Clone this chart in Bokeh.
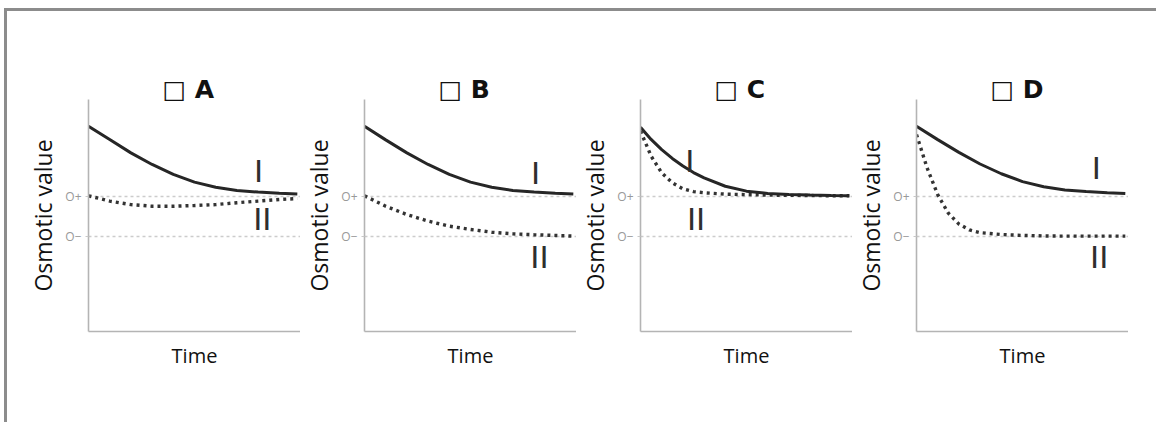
from bokeh.plotting import figure
from bokeh.layouts import row
from bokeh.models import FixedTicker, Spacer
from bokeh.embed import file_html
from bokeh.resources import INLINE
from bokeh.core.properties import value

# ---------------- data ----------------
panel_names = ["A", "B", "C", "D"]
o_plus = 5.8
o_minus = 4.1
tick_values = [o_minus, o_plus]
tick_labels = ["O\u2212", "O+"]

t_even = [0, 1, 2, 3, 4, 5, 6, 7, 8, 9, 9.85]
t_fast = [0, 0.5, 1, 1.5, 2, 2.5, 3, 4, 5, 6, 7, 8, 9, 9.85]

# Panel A
a_I_t = t_even
a_I = [8.85, 8.28, 7.70, 7.20, 6.77, 6.44, 6.22, 6.08, 6.01, 5.96, 5.93]
a_II_t = t_even
a_II = [5.85, 5.62, 5.47, 5.40, 5.40, 5.43, 5.47, 5.55, 5.62, 5.69, 5.73]

# Panel B
b_I_t = t_even
b_I = [8.85, 8.26, 7.70, 7.20, 6.77, 6.44, 6.22, 6.08, 6.01, 5.96, 5.93]
b_II_t = t_even
b_II = [5.85, 5.40, 5.04, 4.76, 4.54, 4.40, 4.28, 4.21, 4.17, 4.14, 4.11]

# Panel C
c_I_t = t_fast
c_I = [8.80, 8.28, 7.84, 7.46, 7.13, 6.85, 6.62, 6.26, 6.05, 5.95, 5.91, 5.88, 5.86, 5.85]
c_II_t = t_fast
c_II = [8.64, 7.56, 6.84, 6.41, 6.15, 6.03, 5.98, 5.92, 5.90, 5.88, 5.87, 5.86, 5.85, 5.85]

# Panel D
d_I_t = t_even
d_I = [8.85, 8.27, 7.72, 7.22, 6.80, 6.46, 6.24, 6.10, 6.03, 5.98, 5.95]
d_II_t = t_fast
d_II = [8.49, 7.05, 5.90, 5.10, 4.63, 4.38, 4.26, 4.18, 4.14, 4.12, 4.11, 4.11, 4.11, 4.11]

curves_I = [(a_I_t, a_I), (b_I_t, b_I), (c_I_t, c_I), (d_I_t, d_I)]
curves_II = [(a_II_t, a_II), (b_II_t, b_II), (c_II_t, c_II), (d_II_t, d_II)]

# label positions for "I" and "II"
lab_I_x = [8.02, 8.07, 2.33, 8.48]
lab_I_y = [6.90, 6.85, 7.33, 7.03]
lab_II_x = [8.20, 8.25, 2.62, 8.62]
lab_II_y = [4.87, 3.23, 4.87, 3.23]

# ---------------- figures ----------------
FONT = "Open Sans"
FIG_H = 411
figs = []
for i, name in enumerate(panel_names):
    p = figure(width=276, height=FIG_H, x_range=(0, 10), y_range=(0, 10),
               output_backend="svg", toolbar_location=None,
               min_border_left=64, min_border_right=0,
               min_border_top=88, min_border_bottom=FIG_H - 88 - 232)
    p.outline_line_color = None
    p.background_fill_color = "white"
    p.border_fill_color = "white"

    p.title.text = "\u25a1 " + name
    p.title.text_font = "DejaVu Sans"
    p.title.text_font_style = "bold"
    p.title.text_font_size = "25px"
    p.title.text_color = "#111111"
    p.title.align = "left"
    p.title.offset = 74
    p.title.standoff = -8

    ticker = FixedTicker(ticks=tick_values)
    p.yaxis.ticker = ticker
    p.yaxis.major_label_overrides = {v: s for v, s in zip(tick_values, tick_labels)}
    p.yaxis.major_label_text_font = FONT
    p.yaxis.major_label_text_font_size = "12px"
    p.yaxis.major_label_text_color = "#999999"
    p.yaxis.major_label_standoff = 4
    p.yaxis.major_tick_out = 3
    p.yaxis.major_tick_in = 0
    p.yaxis.major_tick_line_color = "#c8c8c8"
    p.yaxis.minor_tick_line_color = None
    p.yaxis.axis_line_color = "#b4b4b4"
    p.yaxis.axis_line_width = 1.6
    p.yaxis.axis_label = "Osmotic value"
    p.yaxis.axis_label_text_font = FONT
    p.yaxis.axis_label_text_font_style = "normal"
    p.yaxis.axis_label_text_font_size = "23px"
    p.yaxis.axis_label_text_color = "#111111"
    p.yaxis.axis_label_standoff = 3

    p.xaxis.ticker = FixedTicker(ticks=[])
    p.xaxis.major_tick_out = 0
    p.xaxis.major_tick_in = 0
    p.xaxis.minor_tick_line_color = None
    p.xaxis.axis_line_color = "#b4b4b4"
    p.xaxis.axis_line_width = 1.6
    p.xaxis.axis_label = "Time"
    p.xaxis.axis_label_text_font = FONT
    p.xaxis.axis_label_text_font_style = "normal"
    p.xaxis.axis_label_text_font_size = "20px"
    p.xaxis.axis_label_text_color = "#111111"
    p.xaxis.axis_label_standoff = 10

    p.xgrid.grid_line_color = None
    p.ygrid.ticker = ticker
    p.ygrid.grid_line_color = "#cccccc"
    p.ygrid.grid_line_width = 1.5
    p.ygrid.grid_line_dash = "3 3"

    tI, yI = curves_I[i]
    tII, yII = curves_II[i]
    p.line(tII, yII, line_color="#333333", line_width=3.4, line_dash="3 4")
    p.line(tI, yI, line_color="#262626", line_width=3)

    p.text(x=[lab_I_x[i], lab_II_x[i]], y=[lab_I_y[i], lab_II_y[i]], text=["I", "II"],
           text_font=value("DejaVu Sans"), text_font_size="31px",
           text_color="#2e2e2e", text_align="center", text_baseline="middle")
    figs.append(p)

layout = row(Spacer(width=17, height=FIG_H), *figs, Spacer(width=28, height=FIG_H),
             styles={"border-top": "3px solid #8c8c8c",
                     "border-left": "3px solid #8c8c8c",
                     "margin-left": "4px", "margin-top": "8px"})

open("out.html", "w").write(file_html(layout, INLINE))
